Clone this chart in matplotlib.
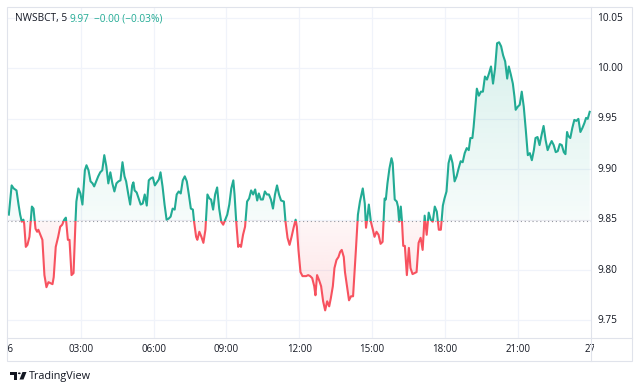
import numpy as np
import matplotlib
matplotlib.use("Agg")
import matplotlib.pyplot as plt
from matplotlib.patches import Rectangle, Polygon, Circle
from matplotlib.lines import Line2D
from matplotlib.colors import to_rgb
import matplotlib.transforms as mtransforms

# ---------------- data ----------------
symbol = "NWSBCT, 5"
last_price = "9.97"
change_text = "\u22120.00 (\u22120.03%)"
base_value = 9.8487

y_ticks = [9.75, 9.80, 9.85, 9.90, 9.95, 10.00, 10.05]
y_tick_labels = ["9.75", "9.80", "9.85", "9.90", "9.95", "10.00", "10.05"]
x_tick_minutes = [0, 180, 360, 540, 720, 900, 1080, 1260, 1440]
x_tick_labels = ["26", "03:00", "06:00", "09:00", "12:00", "15:00", "18:00", "21:00", "27"]

minutes = [
    2, 9, 14, 21, 26, 30, 34, 38, 40, 44, 48, 53, 59, 63, 68, 72, 75, 80, 85, 90,
    95, 100, 105, 110, 113, 118, 124, 129, 134, 139, 143, 148, 152, 157, 162, 167, 169, 174, 179, 184,
    190, 194, 199, 204, 209, 213, 218, 223, 228, 233, 238, 243, 248, 253, 258, 263, 268, 273, 278, 283,
    288, 292, 297, 302, 307, 310, 313, 318, 323, 328, 333, 338, 343, 348, 353, 358, 363, 368, 373, 377,
    382, 387, 392, 397, 402, 407, 412, 417, 422, 427, 432, 437, 442, 447, 452, 457, 460, 465, 468, 473,
    478, 483, 488, 493, 498, 502, 507, 512, 517, 522, 527, 532, 537, 542, 547, 552, 557, 560, 564, 569,
    573, 576, 581, 586, 591, 596, 601, 606, 611, 616, 620, 625, 630, 635, 640, 645, 650, 655, 660, 665,
    670, 675, 682, 686, 691, 696, 701, 706, 711, 714, 718, 723, 728, 732, 737, 742, 747, 752, 757, 760,
    764, 769, 774, 779, 784, 789, 794, 798, 803, 807, 812, 817, 821, 825, 830, 833, 838, 843, 848, 853,
    860, 865, 870, 877, 882, 885, 888, 892, 897, 902, 906, 911, 916, 921, 926, 931, 934, 938, 943, 948,
    951, 956, 961, 964, 967, 971, 974, 977, 981, 986, 991, 995, 1000, 1005, 1010, 1015, 1020, 1025, 1030, 1035,
    1040, 1045, 1050, 1055, 1060, 1065, 1070, 1075, 1079, 1084, 1089, 1094, 1099, 1104, 1109, 1114, 1119, 1124, 1129, 1134,
    1139, 1143, 1148, 1151, 1156, 1159, 1164, 1169, 1174, 1179, 1184, 1189, 1194, 1199, 1204, 1209, 1214, 1219, 1224, 1229,
    1234, 1238, 1243, 1248, 1252, 1255, 1260, 1265, 1270, 1275, 1280, 1285, 1290, 1295, 1300, 1304, 1309, 1314, 1319, 1324,
    1329, 1334, 1339, 1344, 1349, 1354, 1359, 1364, 1369, 1374, 1378, 1382, 1385, 1390, 1395, 1400, 1405, 1410, 1415, 1420,
    1425, 1429, 1433, 1438,
]

prices = [
    9.855, 9.884, 9.881, 9.879, 9.865, 9.855, 9.848, 9.850, 9.846, 9.823, 9.825, 9.833, 9.863, 9.861, 9.841, 9.838, 9.840, 9.835, 9.830, 9.795,
    9.783, 9.788, 9.787, 9.786, 9.793, 9.823, 9.833, 9.843, 9.845, 9.850, 9.852, 9.830, 9.830, 9.795, 9.797, 9.850, 9.868, 9.881, 9.876, 9.865,
    9.899, 9.904, 9.899, 9.888, 9.886, 9.883, 9.888, 9.893, 9.897, 9.899, 9.914, 9.903, 9.886, 9.897, 9.886, 9.878, 9.886, 9.888, 9.889, 9.907,
    9.893, 9.888, 9.876, 9.865, 9.884, 9.887, 9.879, 9.877, 9.871, 9.865, 9.866, 9.875, 9.864, 9.889, 9.891, 9.892, 9.884, 9.887, 9.890, 9.897,
    9.883, 9.865, 9.850, 9.851, 9.853, 9.861, 9.860, 9.875, 9.878, 9.876, 9.889, 9.893, 9.888, 9.875, 9.861, 9.860, 9.848, 9.833, 9.830, 9.838,
    9.833, 9.827, 9.840, 9.875, 9.871, 9.870, 9.860, 9.875, 9.882, 9.861, 9.848, 9.845, 9.850, 9.855, 9.865, 9.881, 9.889, 9.875, 9.849, 9.823,
    9.825, 9.823, 9.835, 9.843, 9.868, 9.871, 9.879, 9.875, 9.880, 9.869, 9.876, 9.870, 9.870, 9.878, 9.875, 9.875, 9.870, 9.861, 9.875, 9.884,
    9.875, 9.869, 9.868, 9.848, 9.832, 9.825, 9.833, 9.842, 9.850, 9.843, 9.820, 9.798, 9.794, 9.794, 9.794, 9.795, 9.794, 9.792, 9.784, 9.775,
    9.795, 9.790, 9.784, 9.769, 9.760, 9.769, 9.764, 9.772, 9.784, 9.802, 9.810, 9.813, 9.818, 9.820, 9.813, 9.798, 9.784, 9.770, 9.774, 9.774,
    9.820, 9.855, 9.868, 9.881, 9.866, 9.842, 9.851, 9.865, 9.848, 9.840, 9.833, 9.838, 9.835, 9.826, 9.828, 9.871, 9.870, 9.886, 9.901, 9.911,
    9.906, 9.870, 9.868, 9.863, 9.848, 9.863, 9.848, 9.824, 9.824, 9.795, 9.822, 9.802, 9.796, 9.797, 9.798, 9.827, 9.832, 9.820, 9.854, 9.835,
    9.857, 9.850, 9.848, 9.863, 9.858, 9.840, 9.840, 9.864, 9.871, 9.878, 9.906, 9.914, 9.906, 9.888, 9.893, 9.901, 9.908, 9.907, 9.916, 9.921,
    9.919, 9.931, 9.931, 9.942, 9.965, 9.980, 9.973, 9.977, 9.977, 9.992, 9.989, 9.995, 10.002, 9.985, 10.000, 10.025, 10.026, 10.022, 10.013, 10.007,
    9.990, 10.002, 9.994, 9.985, 9.972, 9.959, 9.962, 9.964, 9.977, 9.962, 9.939, 9.914, 9.916, 9.909, 9.919, 9.931, 9.932, 9.924, 9.934, 9.943,
    9.929, 9.919, 9.924, 9.928, 9.924, 9.917, 9.918, 9.925, 9.924, 9.917, 9.915, 9.937, 9.933, 9.931, 9.941, 9.949, 9.948, 9.950, 9.937, 9.941,
    9.946, 9.951, 9.950, 9.957,
]

# ---------------- style ----------------
W, H = 640, 391
UP = "#22ab94"
DOWN = "#f7525f"
TEXT = "#131722"
GRID = "#f0f3fa"
BORDER = "#e0e3eb"
FONT = "Open Sans"

def fx(x):
    return x / W

def fy(y):
    return 1 - y / H

fig = plt.figure(figsize=(W / 100, H / 100), dpi=100)
fig.patch.set_facecolor("white")

# main pane: x 7..591, y 7..338 px
ax = fig.add_axes([fx(7), fy(338), fx(591) - fx(7), fy(7) - fy(338)])
ax.set_xlim(-2.5, 1441.2)
ax.set_ylim(9.7326, 10.061)
ax.axis("off")
xmin, xmax = ax.get_xlim()
ymin, ymax = ax.get_ylim()

for m in x_tick_minutes[1:-1]:
    ax.axvline(m, color=GRID, lw=0.9, zorder=0)
for v in y_ticks:
    ax.axhline(v, color=GRID, lw=0.9, zorder=0)

t = np.array(minutes, dtype=float)
p = np.array(prices, dtype=float)

# fill area clipped to the polygon between line and baseline
verts = [(t[0], base_value)] + list(zip(t, p)) + [(t[-1], base_value)]
clip_poly = Polygon(verts, closed=True, transform=ax.transData,
                    facecolor="none", edgecolor="none")
ax.add_patch(clip_poly)

def gradient(color, a_start, a_end, n=256):
    r, g, b = to_rgb(color)
    arr = np.zeros((n, 1, 4))
    arr[:, 0, 0] = r
    arr[:, 0, 1] = g
    arr[:, 0, 2] = b
    arr[:, 0, 3] = np.linspace(a_start, a_end, n)
    return arr

im_up = ax.imshow(gradient(UP, 0.20, 0.04), extent=[xmin, xmax, base_value, ymax],
                  aspect="auto", origin="upper", interpolation="bilinear", zorder=1)
im_up.set_clip_path(clip_poly)
im_dn = ax.imshow(gradient(DOWN, 0.05, 0.20), extent=[xmin, xmax, ymin, base_value],
                  aspect="auto", origin="upper", interpolation="bilinear", zorder=1)
im_dn.set_clip_path(clip_poly)
ax.set_xlim(xmin, xmax)
ax.set_ylim(ymin, ymax)

# baseline
ax.axhline(base_value, color="#9598a1", lw=0.8, ls=(0, (1, 2.5)), zorder=2)

# line split at baseline
up_rect = Rectangle((xmin, base_value), xmax - xmin, ymax - base_value, transform=ax.transData)
dn_rect = Rectangle((xmin, ymin), xmax - xmin, base_value - ymin, transform=ax.transData)
l_up, = ax.plot(t, p, color=UP, lw=1.5, solid_joinstyle="round", zorder=3)
l_up.set_clip_path(up_rect)
l_dn, = ax.plot(t, p, color=DOWN, lw=1.5, solid_joinstyle="round", zorder=3)
l_dn.set_clip_path(dn_rect)

# time axis pane (labels clipped at the pane edges)
axt = fig.add_axes([fx(7), fy(361), fx(594) - fx(7), fy(338) - fy(361)])
axt.set_xlim(xmin, xmin + (xmax - xmin) * (594 - 7) / (591 - 7))
axt.set_ylim(0, 1)
axt.axis("off")
for m, lab in zip(x_tick_minutes, x_tick_labels):
    axt.text(m, 0.5, lab, ha="center", va="center", fontsize=7, color=TEXT,
             family=FONT, clip_on=True)

# price axis labels
tr = mtransforms.blended_transform_factory(fig.transFigure, ax.transData)
for v, lab in zip(y_ticks, y_tick_labels):
    fig.text(fx(597), v, lab, transform=tr, ha="left", va="center",
             fontsize=7.3, color=TEXT, family=FONT)

# frame
fig.add_artist(Rectangle((fx(7), fy(361)), fx(632) - fx(7), fy(7) - fy(361),
                         transform=fig.transFigure, fill=False, edgecolor=BORDER, lw=0.8))
fig.add_artist(Line2D([fx(591), fx(591)], [fy(7), fy(361)], transform=fig.transFigure,
                      color=BORDER, lw=0.8))
fig.add_artist(Line2D([fx(7), fx(632)], [fy(338), fy(338)], transform=fig.transFigure,
                      color=BORDER, lw=0.8))

# header
fig.text(fx(15), fy(19), symbol, ha="left", va="center", fontsize=7.3, color=TEXT, family=FONT)
fig.text(fx(69), fy(19), last_price, ha="left", va="center", fontsize=7.3, color=UP, family=FONT)
fig.text(fx(94.5), fy(19), change_text, ha="left", va="center", fontsize=7.3, color=UP, family=FONT)

# TradingView logo
logo = "#131722"
fig.add_artist(Rectangle((fx(10), fy(374.5)), fx(17) - fx(10), fy(372) - fy(374.5),
                         transform=fig.transFigure, color=logo, lw=0))
fig.add_artist(Rectangle((fx(14), fy(379.5)), fx(17) - fx(14), fy(372) - fy(379.5),
                         transform=fig.transFigure, color=logo, lw=0))
fig.add_artist(Circle((fx(19.3), fy(373.3)), 1.4 / W, transform=fig.transFigure, color=logo, lw=0))
fig.add_artist(Polygon([(fx(22.5), fy(372)), (fx(26.5), fy(372)), (fx(23.5), fy(379.5)), (fx(19.5), fy(379.5))],
                       closed=True, transform=fig.transFigure, color=logo, lw=0))
fig.text(fx(28.5), fy(377), "TradingView", ha="left", va="center", fontsize=7.8,
         color=TEXT, family=FONT)

fig.savefig("out.png", dpi=100, facecolor="white")
